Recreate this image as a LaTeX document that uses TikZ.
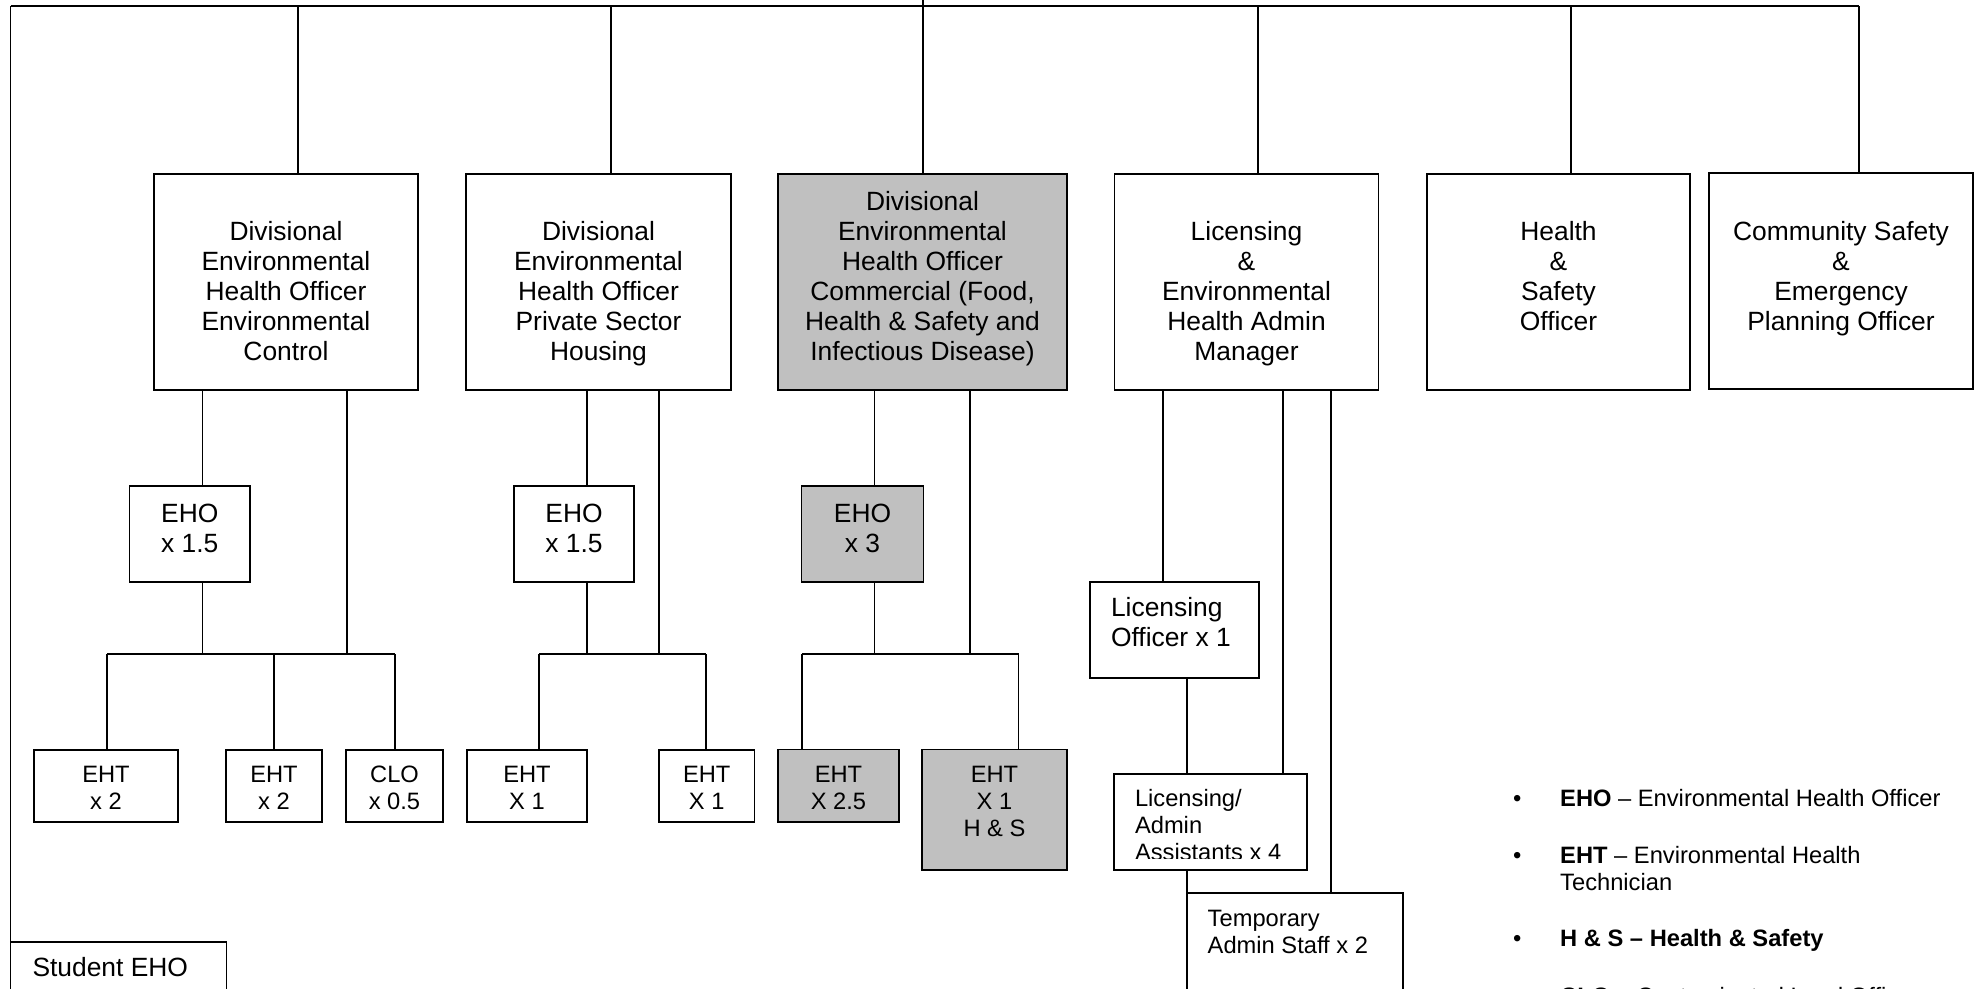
\documentclass[tikz,border=0pt]{standalone}
\usepackage{fontspec}
\setmainfont{Liberation Sans}
\usetikzlibrary{calc}
\definecolor{boxgray}{RGB}{192,192,192}
\newcommand\bigf{\fontsize{26.4pt}{30pt}\selectfont}
\newcommand\smallf{\fontsize{23.7pt}{27pt}\selectfont}
\newcommand\bxc[4]{\begin{minipage}[c][#2][t]{#1}\centering\vspace*{#3}\strut #4\end{minipage}}
\newcommand\bxl[5]{\begin{minipage}[c][#2][t]{#1}\raggedright\leftskip=#4\relax\vspace*{#3}\strut #5\end{minipage}}
\tikzset{
  orgbox/.style={draw, line width=1.3pt, inner sep=0pt, outer sep=0pt, anchor=north west, font=\bigf},
  smallbox/.style={orgbox, font=\smallf},
  shaded/.style={fill=boxgray},
  link/.style={line width=1.3pt},
  busline/.style={line width=2pt},
  legend/.style={inner sep=0pt, anchor=base west, font=\smallf}
}
\begin{document}
\begin{tikzpicture}[x=1pt,y=-1pt]
\useasboundingbox (0,0) rectangle (1975,988);
\clip (0,0) rectangle (1975,988);

% top level boxes
\node[orgbox] (b1) at (154,174) {\bxc{264pt}{216pt}{45pt}{Divisional\\Environmental\\Health Officer\\Environmental\\Control}};
\node[orgbox] (b2) at (466,174) {\bxc{265pt}{216pt}{45pt}{Divisional\\Environmental\\Health Officer\\Private Sector\\Housing}};
\node[orgbox,shaded] (b3) at (778,174) {\bxc{289pt}{216pt}{15pt}{Divisional\\Environmental\\Health Officer\\Commercial (Food,\\Health \& Safety and\\Infectious Disease)}};
\node[orgbox] (b4) at (1114.5,174) {\bxc{264pt}{216pt}{45pt}{Licensing\\\&\\Environmental\\Health Admin\\Manager}};
\node[orgbox] (b5) at (1427,174) {\bxc{263pt}{216pt}{45pt}{Health\\\&\\Safety\\Officer}};
\node[orgbox] (b6) at (1709,173) {\bxc{264pt}{216pt}{46pt}{Community Safety\\\&\\Emergency\\Planning Officer}};

% EHO boxes
\node[orgbox] (eho1) at (129.5,486) {\bxc{120.5pt}{96pt}{15pt}{EHO\\x 1.5}};
\node[orgbox] (eho2) at (514,486) {\bxc{120pt}{96pt}{15pt}{EHO\\x 1.5}};
\node[orgbox,shaded] (eho3) at (801.7,486) {\bxc{121.6pt}{96pt}{15pt}{EHO\\x 3}};

% EHT row
\node[smallbox] (e1a) at (34,750) {\bxc{144pt}{72pt}{14pt}{EHT\\x 2}};
\node[smallbox] (e1b) at (226,750) {\bxc{96pt}{72pt}{14pt}{EHT\\x 2}};
\node[smallbox] (e1c) at (346,750) {\bxc{97pt}{72pt}{14pt}{CLO\\x 0.5}};
\node[smallbox] (e2a) at (467,750) {\bxc{120pt}{72pt}{14pt}{EHT\\X 1}};
\node[smallbox] (e2b) at (659,750) {\bxc{95.5pt}{72pt}{14pt}{EHT\\X 1}};
\node[smallbox,shaded] (e3a) at (778,749.5) {\bxc{121pt}{72.5pt}{14pt}{EHT\\X 2.5}};
\node[smallbox,shaded] (e3b) at (922,749.5) {\bxc{145pt}{120.5pt}{14pt}{EHT\\X 1\\H \& S}};

% licensing branch
\node[orgbox] (lo) at (1090,582) {\bxl{169pt}{96pt}{13.7pt}{21pt}{Licensing\\Officer x 1}};
\node[orgbox, minimum width=193pt, minimum height=96pt] (la) at (1114,774) {};
\begin{scope}
  \clip (1114,774) rectangle (1307,858);
  \node[smallbox, draw=none] (lat) at (1114,774) {\bxl{193pt}{96pt}{13.8pt}{21pt}{Licensing/\\Admin\\Assistants x 4}};
\end{scope}
\node[smallbox] (tm) at (1187,893) {\bxl{216pt}{120pt}{14.8pt}{20.7pt}{Temporary\\Admin Staff x 2}};
\node[orgbox] (st) at (10.5,942) {\bxl{216pt}{100pt}{13.7pt}{22pt}{Student EHO}};

% bus and branches
\coordinate (apex) at (923,0);
\coordinate (busL) at (10.5,6);
\coordinate (busR) at (1859,6);
\draw[busline] (busL) -- (busR);
\draw[link] (apex) -- (apex |- busL);
\draw[link] (busL) -- (busL |- st.north);
\coordinate (t1) at (298,6);
\coordinate (t2) at (611,6);
\coordinate (t3) at (923,6);
\coordinate (t4) at (1258,6);
\coordinate (t5) at (1571,6);
\coordinate (t6) at (1859,6);
\draw[link] (t1) -- (t1 |- b1.north);
\draw[link] (t2) -- (t2 |- b2.north);
\draw[link] (t3) -- (t3 |- b3.north);
\draw[link] (t4) -- (t4 |- b4.north);
\draw[link] (t5) -- (t5 |- b5.north);
\draw[link] (t6) -- (t6 |- b6.north);

% subtree 1
\coordinate (x1a) at (202.8,0);
\coordinate (x1b) at (347,0);
\coordinate (h1L) at (107,654);
\coordinate (h1M) at (274,654);
\coordinate (h1R) at (395,654);
\draw[link] (x1a |- b1.south) -- (x1a |- eho1.north);
\draw[link] (x1a |- eho1.south) -- (x1a |- h1L);
\draw[link] (x1b |- b1.south) -- (x1b |- h1L);
\draw[link] (h1L) -- (h1R);
\draw[link] (h1L) -- (h1L |- e1a.north);
\draw[link] (h1M) -- (h1M |- e1b.north);
\draw[link] (h1R) -- (h1R |- e1c.north);

% subtree 2
\coordinate (x2a) at (587,0);
\coordinate (x2b) at (659,0);
\coordinate (h2L) at (539,654);
\coordinate (h2R) at (706,654);
\draw[link] (x2a |- b2.south) -- (x2a |- eho2.north);
\draw[link] (x2a |- eho2.south) -- (x2a |- h2L);
\draw[link] (x2b |- b2.south) -- (x2b |- h2L);
\draw[link] (h2L) -- (h2R);
\draw[link] (h2L) -- (h2L |- e2a.north);
\draw[link] (h2R) -- (h2R |- e2b.north);

% subtree 3
\coordinate (x3a) at (874.7,0);
\coordinate (x3b) at (970,0);
\coordinate (h3L) at (802,654);
\coordinate (h3R) at (1018.7,654);
\draw[link] (x3a |- b3.south) -- (x3a |- eho3.north);
\draw[link] (x3a |- eho3.south) -- (x3a |- h3L);
\draw[link] (x3b |- b3.south) -- (x3b |- h3L);
\draw[link] (h3L) -- (h3R);
\draw[link] (h3L) -- (h3L |- e3a.north);
\draw[link] (h3R) -- (h3R |- e3b.north);

% subtree 4
\coordinate (x4a) at (1163,0);
\coordinate (x4b) at (1187,0);
\coordinate (x4c) at (1283,0);
\coordinate (x4d) at (1331,0);
\draw[link] (x4a |- b4.south) -- (x4a |- lo.north);
\draw[link] (x4b |- lo.south) -- (x4b |- la.north);
\draw[link] (x4b |- la.south) -- (x4b |- tm.north);
\draw[link] (x4c |- b4.south) -- (x4c |- la.north);
\draw[link] (x4d |- b4.south) -- (x4d |- tm.north);

% legend
\node[legend] (l1) at (1513,806) {\makebox[47pt][l]{\textbullet}\textbf{EHO} – Environmental Health Officer};
\node[legend] (l2) at (1513,863) {\makebox[47pt][l]{\textbullet}\textbf{EHT} – Environmental Health};
\node[legend] (l2b) at (1560,890) {Technician};
\node[legend] (l3) at (1513,946.7) {\makebox[47pt][l]{\textbullet}\textbf{H \& S – Health \& Safety}};
\node[legend] (l4) at (1513,1004) {\makebox[47pt][l]{\textbullet}\textbf{CLO} – Contaminated Land Officer};
\end{tikzpicture}
\end{document}
